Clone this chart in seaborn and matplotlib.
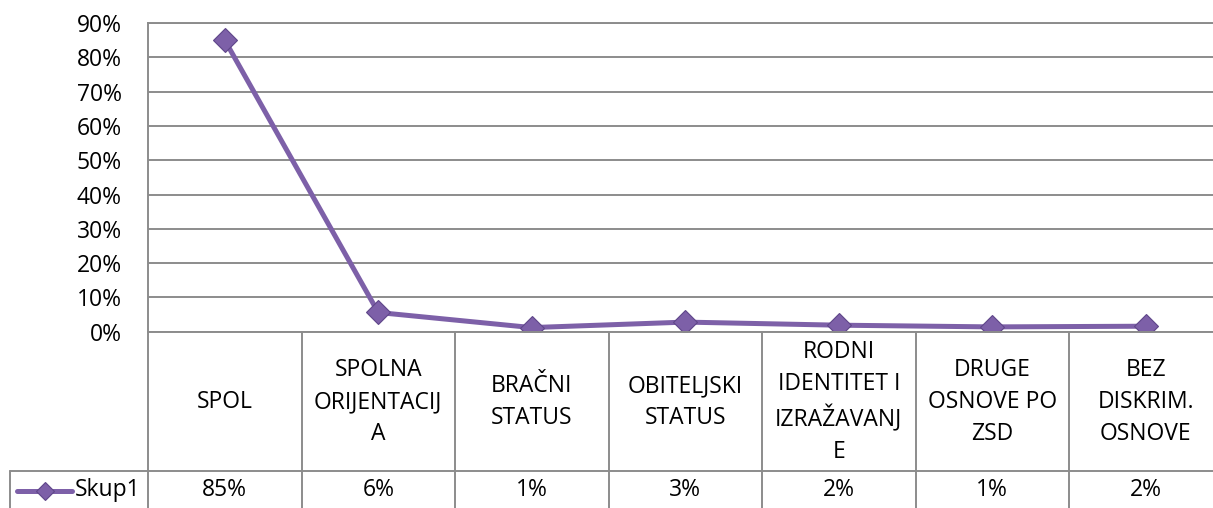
import numpy as np
import pandas as pd
import seaborn as sns
import matplotlib.pyplot as plt
import matplotlib.transforms as mtransforms
from matplotlib.lines import Line2D

# podaci
categories = ["SPOL", "SPOLNA\nORIJENTACIJ\nA", "BRAČNI\nSTATUS", "OBITELJSKI\nSTATUS",
              "RODNI\nIDENTITET I\nIZRAŽAVANJ\nE", "DRUGE\nOSNOVE PO\nZSD", "BEZ\nDISKRIM.\nOSNOVE"]
values = [0.85, 0.056, 0.012, 0.028, 0.019, 0.014, 0.016]
table_labels = ["85%", "6%", "1%", "3%", "2%", "1%", "2%"]
series_name = "Skup1"
yticks = [0, 0.1, 0.2, 0.3, 0.4, 0.5, 0.6, 0.7, 0.8, 0.9]
ytick_labels = ["0%", "10%", "20%", "30%", "40%", "50%", "60%", "70%", "80%", "90%"]

sns.set_style("white")
plt.rcParams["font.family"] = ["Open Sans", "DejaVu Sans"]
plt.rcParams["text.color"] = "black"
plt.rcParams["ytick.color"] = "black"

W, H = 1213, 508
purple = "#7d60a8"
grid_c = "#8c8c8c"
fs = 16.5

fig = plt.figure(figsize=(W / 100, H / 100), dpi=100)
ax = fig.add_axes([148 / W, 1 - 331.7 / H, 1074.5 / W, 308.7 / H])

df = pd.DataFrame({"pos": np.arange(len(categories)), "val": values})
sns.lineplot(data=df, x="pos", y="val", color=purple, lw=3.6, marker="D",
             markersize=12, markeredgecolor="#5f4689", markeredgewidth=0.8, ax=ax)

ax.set_xlim(-0.5, len(categories) - 0.5)
ax.set_ylim(0, 0.9)
ax.set_yticks(yticks)
ax.set_yticklabels(ytick_labels, fontsize=fs)
ax.set_xticks([])
ax.set_xlabel("")
ax.set_ylabel("")
ax.tick_params(axis="y", length=0, pad=19)
ax.yaxis.grid(True, color=grid_c, lw=1.4)
ax.set_axisbelow(True)
for s in ["left", "top", "bottom"]:
    ax.spines[s].set_color(grid_c)
    ax.spines[s].set_linewidth(1.4)
ax.spines["right"].set_visible(False)

# tablica podataka ispod grafa (piksel koordinate, y prema dolje)
pix = mtransforms.Affine2D().scale(1 / W, -1 / H).translate(0, 1) + fig.transFigure
colx = mtransforms.blended_transform_factory(ax.transData, pix)

for i in range(len(categories) + 1):
    x = i - 0.5
    fig.add_artist(Line2D([x, x], [331.7, 510], transform=colx, color=grid_c, lw=1.4))
fig.add_artist(Line2D([10, 1230], [470.7, 470.7], transform=pix, color=grid_c, lw=1.4))
fig.add_artist(Line2D([10, 10], [470.7, 510], transform=pix, color=grid_c, lw=1.4))

for i, (cat, lab) in enumerate(zip(categories, table_labels)):
    fig.text(i, 402, cat, transform=colx, ha="center", va="center",
             multialignment="center", fontsize=fs, linespacing=1.45)
    fig.text(i, 490, lab, transform=colx, ha="center", va="center", fontsize=fs)

# legenda u tablici
fig.add_artist(Line2D([17, 72], [491, 491], transform=pix, color=purple, lw=3.6))
fig.add_artist(Line2D([44.5], [491], transform=pix, color=purple, marker="D",
                      markersize=9.5, markeredgecolor="#5f4689", markeredgewidth=0.8))
fig.text(75, 490, series_name, transform=pix, ha="left", va="center", fontsize=fs)

fig.savefig("out.png", dpi=100)
